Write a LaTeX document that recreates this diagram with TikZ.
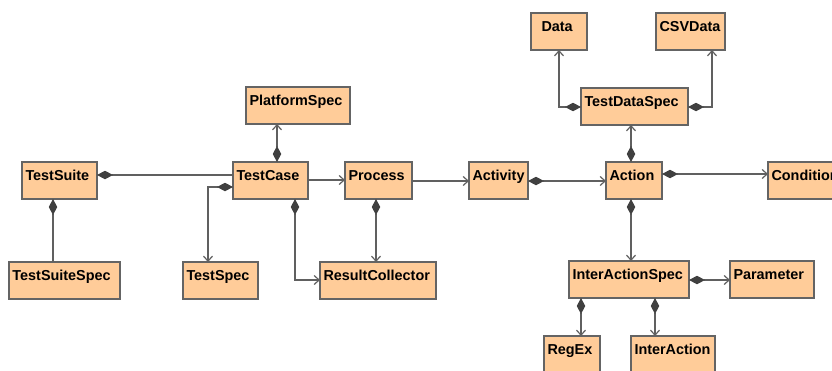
\documentclass[tikz,border=0pt]{standalone}
\usepackage{fontspec}
\setmainfont{Liberation Sans}
\usetikzlibrary{arrows.meta}
\definecolor{peach}{RGB}{255,204,153}
\definecolor{boxgray}{RGB}{100,100,100}
\definecolor{linegray}{RGB}{96,96,96}
\definecolor{diag}{RGB}{64,64,64}
\tikzset{
  cls/.style={draw=boxgray, line width=1.3pt, fill=peach, anchor=north west,
    outer sep=0pt, inner xsep=3.5pt, inner ysep=0pt, align=left,
    text width=#1, text height=18pt, text depth=19pt,
    font=\bfseries\fontsize{14.4}{16}\selectfont},
  conn/.style={draw=linegray, line width=1.2pt},
  dia/.tip={Diamond[length=16pt,width=8.5pt,fill=diag,color=diag]},
  barb/.tip={Straight Barb[length=5pt,width=9pt,line width=1.2pt]},
  comp/.style={conn, dia-barb},
  compplain/.style={conn, dia-},
  assoc/.style={conn, -barb}
}
\begin{document}
\begin{tikzpicture}[x=1pt, y=-1pt]
\useasboundingbox (0,0) rectangle (832,370);
\clip (0,0) rectangle (832,370);
\fill[white] (0,0) rectangle (832,370);

% classes
\node[cls=68pt]  (TestSuite)       at (22,162)  {TestSuite};
\node[cls=68pt]  (TestCase)        at (233,162) {TestCase};
\node[cls=60pt]  (Process)         at (345,162) {Process};
\node[cls=52pt]  (Activity)        at (469,162) {Activity};
\node[cls=49pt]  (Action)          at (606,162) {Action};
\node[cls=88pt]  (Condition)       at (768,162) {Condition};
\node[cls=97pt]  (PlatformSpec)    at (246,87)  {PlatformSpec};
\node[cls=100pt] (TestDataSpec)    at (581,88)  {TestDataSpec};
\node[cls=35pt, inner xsep=10.5pt] (Data) at (531,13) {Data};
\node[cls=62pt]  (CSVData)         at (656,13)  {CSVData};
\node[cls=104pt] (TestSuiteSpec)   at (9,262)   {TestSuiteSpec};
\node[cls=68pt]  (TestSpec)        at (183,262) {TestSpec};
\node[cls=109pt] (ResultCollector) at (320,262) {ResultCollector};
\node[cls=113pt] (InterActionSpec) at (569,261) {InterActionSpec};
\node[cls=77pt]  (Parameter)       at (730,261) {Parameter};
\node[cls=49pt]  (RegEx)           at (544,336) {RegEx};
\node[cls=77pt]  (InterAction)     at (631,336) {InterAction};

% TestSuite
\draw[compplain] ([yshift=-13pt]TestSuite.north east) -- ([yshift=-13pt]TestCase.north west);
\draw[compplain] ([xshift=31pt]TestSuite.south west) -- ([xshift=31pt]TestSuite.south west |- TestSuiteSpec.north);

% TestCase
\draw[comp] ([xshift=44pt]TestCase.north west) -- ([xshift=44pt]TestCase.north west |- PlatformSpec.south);
\draw[comp] ([yshift=-25pt]TestCase.north west) -| ([xshift=25pt]TestSpec.north west);
\draw[comp] ([xshift=62pt]TestCase.south west) |- ([yshift=-18pt]ResultCollector.north west);
\draw[assoc] ([yshift=-18pt]TestCase.north east) -- ([yshift=-18pt]Process.north west);

% Process
\draw[comp] ([xshift=31pt]Process.south west) -- ([xshift=31pt]Process.south west |- ResultCollector.north);
\draw[assoc] ([yshift=-19pt]Process.north east) -- ([yshift=-19pt]Activity.north west);

% Activity
\draw[comp] ([yshift=-19pt]Activity.north east) -- ([yshift=-19pt]Action.north west);

% Action
\draw[comp] ([xshift=25pt]Action.north west) -- ([xshift=25pt]Action.north west |- TestDataSpec.south);
\draw[comp] ([yshift=-12pt]Action.north east) -- ([yshift=-12pt]Condition.north west);
\draw[comp] ([xshift=25pt]Action.south west) -- ([xshift=25pt]Action.south west |- InterActionSpec.north);

% TestDataSpec
\draw[comp] ([yshift=-19pt]TestDataSpec.north west) -| ([xshift=28pt]Data.south west);
\draw[comp] ([yshift=-19pt]TestDataSpec.north east) -| ([xshift=56pt]CSVData.south west);

% InterActionSpec
\draw[comp] ([yshift=-19pt]InterActionSpec.north east) -- ([yshift=-19pt]Parameter.north west);
\draw[comp] ([xshift=12pt]InterActionSpec.south west) -- ([xshift=12pt]InterActionSpec.south west |- RegEx.north);
\draw[comp] ([xshift=86pt]InterActionSpec.south west) -- ([xshift=86pt]InterActionSpec.south west |- InterAction.north);
\end{tikzpicture}
\end{document}
